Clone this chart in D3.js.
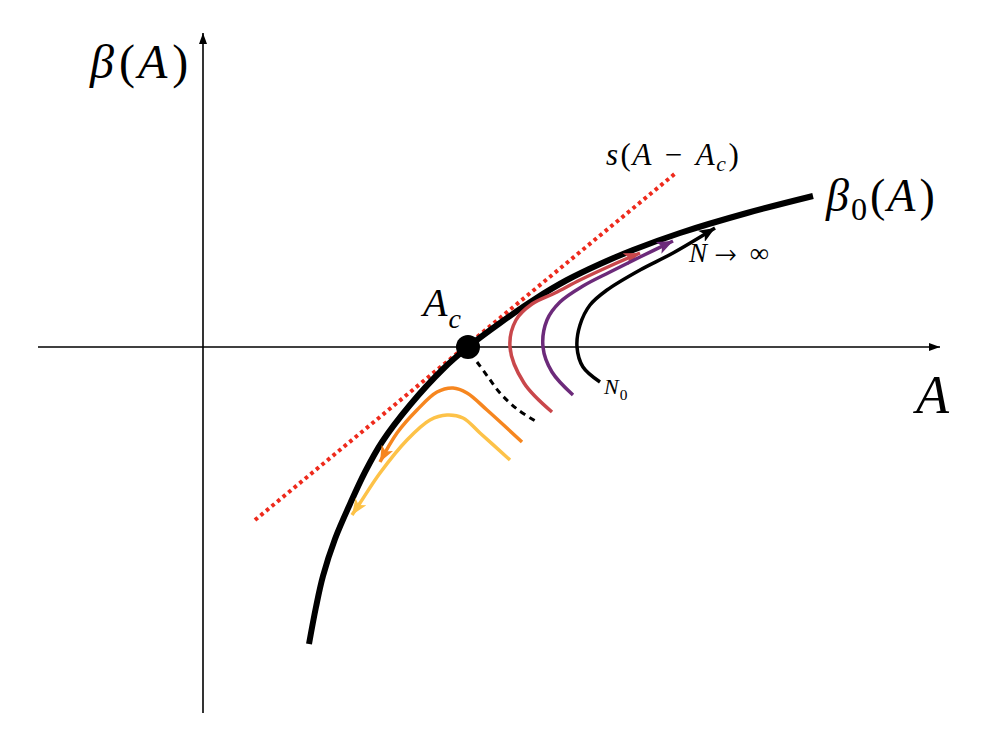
<!DOCTYPE html>
<html><head><meta charset="utf-8">
<script src="https://cdn.jsdelivr.net/npm/d3@7"></script>
<style>
html,body{margin:0;padding:0;background:#fff;}
</style></head>
<body><svg id="chart" width="997" height="747"></svg>
<script>
// Axis extents (data units)
const xDomain = [-1.65, 7.37];
const yDomain = [-3.66, 3.14];
const Ac = [2.65, 0];
// beta_0(A) main curve
const mainCurve = [[1.06,-2.97],[1.13,-2.60],[1.20,-2.29],[1.32,-1.92],[1.47,-1.57],[1.62,-1.25],[1.79,-0.95],[2.07,-0.58],[2.40,-0.22],[2.65,0],[2.97,0.24],[3.32,0.48],[3.64,0.67],[3.97,0.83],[4.30,0.97],[4.77,1.14],[5.44,1.34],[6.10,1.51]];
// tangent s(A - Ac)
const tangentLine = [[0.52,-1.73],[4.74,1.75]];
// flows (N increasing)
const redFlow = [[3.49,-0.65],[3.21,-0.36],[3.07,0],[3.13,0.27],[3.29,0.43],[3.52,0.54],[3.77,0.67],[4.07,0.81],[4.37,0.94]];
const purpleFlow = [[3.70,-0.48],[3.49,-0.25],[3.40,0],[3.44,0.27],[3.57,0.45],[3.80,0.61],[4.07,0.75],[4.37,0.90],[4.70,1.06]];
const blackFlow = [[3.97,-0.35],[3.80,-0.20],[3.74,0],[3.77,0.22],[3.87,0.42],[4.04,0.57],[4.37,0.77],[4.70,0.94],[5.12,1.19]];
const dashedFlow = [[2.74,-0.15],[2.85,-0.30],[2.97,-0.46],[3.14,-0.62],[3.34,-0.75]];
const orangeFlow = [[3.19,-0.95],[2.84,-0.63],[2.64,-0.46],[2.50,-0.41],[2.34,-0.45],[2.14,-0.63],[1.94,-0.86],[1.77,-1.15]];
const yellowFlow = [[3.07,-1.13],[2.77,-0.86],[2.60,-0.71],[2.44,-0.68],[2.27,-0.73],[2.04,-0.93],[1.77,-1.26],[1.57,-1.56],[1.49,-1.68]];

const FONT = "Liberation Serif";
const svg = d3.select("#chart");
const x = d3.scaleLinear().domain(xDomain).range([38, 940]);
const y = d3.scaleLinear().domain(yDomain).range([713, 33]);
const line = d3.line().x(d=>x(d[0])).y(d=>y(d[1])).curve(d3.curveCatmullRom.alpha(0.5));

const defs = svg.append("defs");
function marker(id, color, len, wid, notch){
  defs.append("marker").attr("id", id).attr("markerUnits","userSpaceOnUse")
    .attr("viewBox", `${-len} ${-wid/2} ${len} ${wid}`)
    .attr("refX", 0).attr("refY", 0)
    .attr("markerWidth", len).attr("markerHeight", wid)
    .attr("orient","auto")
    .append("path")
    .attr("d", `M0,0L${-len},${-wid/2}L${-len+notch},0L${-len},${wid/2}Z`)
    .attr("fill", color);
}
marker("axArrow", "#000", 11, 8, 0);
const flowColors = {red:"#c9474b", purple:"#6c2a7a", black:"#000", orange:"#f6861f", yellow:"#fdc248"};
Object.entries(flowColors).forEach(([k,c]) => marker("arr-"+k, c, 16, 13, 4));

// axes
svg.append("line").attr("x1", x(xDomain[0])).attr("x2", x(xDomain[1])).attr("y1", y(0)).attr("y2", y(0))
  .attr("stroke","#000").attr("stroke-width",1.6).attr("marker-end","url(#axArrow)");
svg.append("line").attr("x1", x(0)).attr("x2", x(0)).attr("y1", y(yDomain[0])).attr("y2", y(yDomain[1]))
  .attr("stroke","#000").attr("stroke-width",1.6).attr("marker-end","url(#axArrow)");

// tangent line
svg.append("path").attr("d", d3.line().x(d=>x(d[0])).y(d=>y(d[1]))(tangentLine))
  .attr("fill","none").attr("stroke","#ee2a1c").attr("stroke-width",4).attr("stroke-dasharray","3.6,3.6");

// main curve
svg.append("path").attr("d", line(mainCurve)).attr("fill","none").attr("stroke","#000").attr("stroke-width",6);

// dashed flow
svg.append("path").attr("d", line(dashedFlow)).attr("fill","none").attr("stroke","#000")
  .attr("stroke-width",3).attr("stroke-dasharray","6,5");

const flows = [["red",redFlow],["purple",purpleFlow],["black",blackFlow],["orange",orangeFlow],["yellow",yellowFlow]];
flows.forEach(([k,pts]) => {
  svg.append("path").attr("d", line(pts)).attr("fill","none").attr("stroke", flowColors[k])
    .attr("stroke-width",3.5).attr("marker-end", `url(#arr-${k})`);
});

// critical point
svg.append("circle").attr("cx", x(Ac[0])).attr("cy", y(Ac[1])).attr("r", 12).attr("fill","#000");

// labels
function label(px, py, size, parts, spacing){
  const t = svg.append("text").attr("x", px).attr("y", py).attr("font-size", size)
    .attr("font-family", FONT).attr("fill", "#000");
  if (spacing) t.attr("letter-spacing", spacing);
  parts.forEach(p => {
    const s = t.append("tspan").text(p.t);
    if (p.i) s.attr("font-style","italic");
    if (p.f) s.attr("font-family", p.f);
    let dy = 0;
    if (p.sub) { s.attr("font-size", size*0.7); dy += p.sub; }
    if (p.up) dy += p.up;
    if (dy) s.attr("dy", dy);
    if (p.dx) s.attr("dx", p.dx);
  });
  return t;
}
label(90, 78, 48, [{t:"β",i:1},{t:"(",dx:2},{t:"A",i:1},{t:")",dx:2}], 3);
label(916, 413, 54, [{t:"A",i:1}]);
label(826, 211, 46, [{t:"β",i:1},{t:"0",sub:9},{t:"(",up:-9,dx:1},{t:"A",i:1},{t:")",dx:2}], 2);
label(606, 165, 31, [{t:"s",i:1},{t:"(",dx:1},{t:"A",i:1},{t:"−",dx:12},{t:"A",i:1,dx:12},{t:"c",i:1,sub:6},{t:")",up:-6,dx:1}], 1.5);
label(689, 262, 27, [{t:"N",i:1},{t:"→",f:"FreeSerif",dx:8},{t:"∞",dx:13}]);
label(604, 394, 22, [{t:"N",i:1},{t:"0",sub:6,dx:1}]);
label(423, 316, 40, [{t:"A",i:1},{t:"c",i:1,sub:12,dx:1}]);
</script></body></html>
